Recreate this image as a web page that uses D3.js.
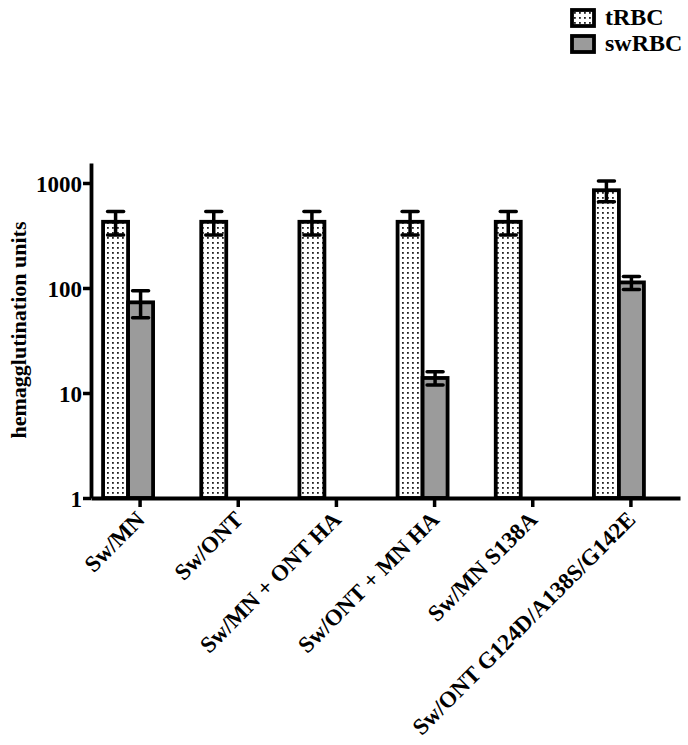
<!DOCTYPE html>
<html>
<head>
<meta charset="utf-8">
<script src="https://cdn.jsdelivr.net/npm/d3@7"></script>
<style>
  body { margin: 0; background: #fff; }
  svg text { font-family: "Liberation Serif", "Times New Roman", serif; font-weight: bold; fill: #000; }
</style>
</head>
<body>
<div id="chart"></div>
<script>
// categories + series (hemagglutination units, mean and error)
const categories = ["Sw/MN", "Sw/ONT", "Sw/MN + ONT HA", "Sw/ONT + MN HA", "Sw/MN S138A", "Sw/ONT G124D/A138S/G142E"];
const seriesNames = ["tRBC", "swRBC"];
const tRBC = [427, 427, 427, 427, 427, 853];
const tRBC_err = [107, 107, 107, 107, 107, 190];
const swRBC = [73, null, null, 13.9, null, 113];
const swRBC_err = [21, null, null, 2, null, 16];
const yTicks = [1, 10, 100, 1000];

const width = 688, height = 745;
const svg = d3.select("#chart").append("svg")
  .attr("width", width)
  .attr("height", height);

// dotted fill like the original
const defs = svg.append("defs");
const pat = defs.append("pattern")
  .attr("id", "dots")
  .attr("patternUnits", "userSpaceOnUse")
  .attr("width", 5)
  .attr("height", 5);
pat.append("rect").attr("width", 5).attr("height", 5).attr("fill", "#fff");
pat.append("rect").attr("x", 2).attr("y", 2).attr("width", 1.8).attr("height", 1.8).attr("fill", "#222");

const fills = { tRBC: "url(#dots)", swRBC: "#9b9b9b" };

const x0 = 91, x1 = 680, yBase = 498, yTop = 163;

const x = d3.scaleBand().domain(categories).range([x0, x1]);
const xInner = d3.scaleBand().domain(seriesNames).range([-37, 13]);
const y = d3.scaleLog().domain([1, 1550]).range([yBase, yTop]);

// rows for bars
const rows = [];
categories.forEach((c, i) => {
  rows.push({ cat: c, s: "tRBC", v: tRBC[i], e: tRBC_err[i] });
  if (swRBC[i] != null) rows.push({ cat: c, s: "swRBC", v: swRBC[i], e: swRBC_err[i] });
});

const bx = d => x(d.cat) + x.bandwidth() / 2 + xInner(d.s);

svg.selectAll("rect.bar")
  .data(rows)
  .enter()
  .append("rect")
  .attr("class", "bar")
  .attr("x", d => bx(d))
  .attr("width", xInner.bandwidth())
  .attr("y", d => y(d.v))
  .attr("height", d => yBase - y(d.v))
  .attr("fill", d => fills[d.s])
  .attr("stroke", "#000")
  .attr("stroke-width", 3.8);

// error bars
const eb = svg.selectAll("g.err")
  .data(rows)
  .enter()
  .append("g")
  .attr("class", "err")
  .attr("stroke", "#000")
  .attr("stroke-width", 3.5);
const cx = d => bx(d) + xInner.bandwidth() / 2;
eb.append("line")
  .attr("x1", cx).attr("x2", cx)
  .attr("y1", d => y(d.v + d.e)).attr("y2", d => y(d.v - d.e));
eb.append("line")
  .attr("x1", d => cx(d) - 8).attr("x2", d => cx(d) + 8)
  .attr("y1", d => y(d.v + d.e)).attr("y2", d => y(d.v + d.e))
  .attr("stroke-linecap", "round");
eb.append("line")
  .attr("x1", d => cx(d) - 8).attr("x2", d => cx(d) + 8)
  .attr("y1", d => y(d.v - d.e)).attr("y2", d => y(d.v - d.e))
  .attr("stroke-linecap", "round");

// y axis
const yAxis = d3.axisLeft(y)
  .tickValues(yTicks)
  .tickFormat(d3.format("d"))
  .tickSize(8)
  .tickSizeOuter(0)
  .tickPadding(1);
const gy = svg.append("g")
  .attr("transform", `translate(${x0},0)`)
  .call(yAxis);
gy.select(".domain").attr("stroke-width", 3.8);
gy.selectAll(".tick line").attr("stroke-width", 3.5);
gy.selectAll(".tick text").attr("font-size", 23).attr("dy", "0.36em");

// x axis
const xAxis = d3.axisBottom(x).tickSize(9).tickSizeOuter(0).tickFormat("");
const gx = svg.append("g")
  .attr("transform", `translate(0,${yBase})`)
  .call(xAxis);
gx.select(".domain").attr("stroke-width", 3.8);
gx.selectAll(".tick line").attr("stroke-width", 3.5);

// rotated category labels
svg.selectAll("text.cat")
  .data(categories)
  .enter()
  .append("text")
  .attr("class", "cat")
  .attr("text-anchor", "end")
  .attr("font-size", 23)
  .attr("transform", d => `translate(${x(d) + x.bandwidth() / 2 + 6},${yBase + 23}) rotate(-45)`)
  .text(d => d);

// y label
svg.append("text")
  .attr("text-anchor", "middle")
  .attr("font-size", 22)
  .attr("transform", `translate(26,330) rotate(-90)`)
  .text("hemagglutination units");

// legend
const lg = svg.selectAll("g.legend")
  .data(seriesNames)
  .enter()
  .append("g")
  .attr("class", "legend")
  .attr("transform", (d, i) => `translate(572,${10 + i * 26})`);
lg.append("rect")
  .attr("width", 22)
  .attr("height", 16)
  .attr("fill", d => fills[d])
  .attr("stroke", "#000")
  .attr("stroke-width", 3.8);
lg.append("text")
  .attr("x", 33)
  .attr("y", 15)
  .attr("font-size", 24)
  .text(d => d);
</script>
</body>
</html>
